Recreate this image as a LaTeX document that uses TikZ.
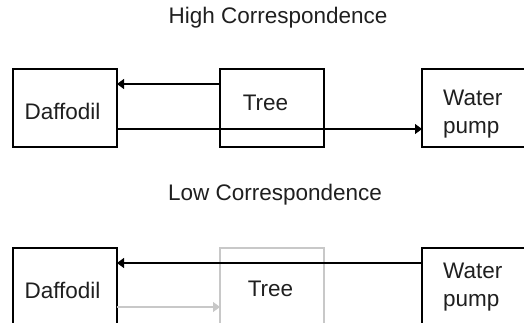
\documentclass[tikz,border=0pt]{standalone}
\usepackage{fontspec}
\setmainfont{Liberation Sans}
\usetikzlibrary{arrows.meta}
\definecolor{lightgr}{RGB}{200,200,200}
\tikzset{
  box/.style={draw, line width=1.2pt, minimum width=104pt, minimum height=78pt, inner sep=0pt, outer sep=0pt},
  txt/.style={inner sep=0pt, font=\fontsize{22.5}{28}\selectfont, text=black!88},
  arr/.style={line width=1.2pt, -{Triangle[length=7pt,width=10pt]}},
}
\begin{document}
\begin{tikzpicture}[x=1pt,y=-1pt]
\useasboundingbox (0,0) rectangle (524,323);
\clip (0,0) rectangle (524,323);
% High correspondence
\node[txt] (t1) at (278,18) {High Correspondence};
\node[box] (d1) at (65,108) {};
\node[box] (tr1) at (272,108) {};
\node[box] (w1) at (474,108) {};
\node[txt] (d1t) at (62.5,111.5) {Daffodil};
\node[txt] (tr1t) at (265.5,103) {Tree};
\node[txt, align=left, anchor=west] (w1t) at (443,114) {Water\\pump};
\draw[arr] ([yshift=-15pt]tr1.north west) -- ([yshift=-15pt]d1.north east);
\draw[arr] ([yshift=-60pt]d1.north east) -- ([yshift=-60pt]w1.north west);
% Low correspondence
\node[txt] (t2) at (275,195) {Low Correspondence};
\node[box] (d2) at (65,287) {};
\node[box, draw=lightgr] (tr2) at (272,287) {};
\node[box] (w2) at (474,287) {};
\node[txt] (d2t) at (62.5,290) {Daffodil};
\node[txt] (tr2t) at (270.5,288.5) {Tree};
\node[txt, align=left, anchor=west] (w2t) at (443,287.5) {Water\\pump};
\draw[arr] ([yshift=-15pt]w2.north west) -- ([yshift=-15pt]d2.north east);
\draw[arr, draw=lightgr, fill=lightgr] ([yshift=-59pt]d2.north east) -- ([yshift=-59pt]tr2.north west);
\end{tikzpicture}
\end{document}
